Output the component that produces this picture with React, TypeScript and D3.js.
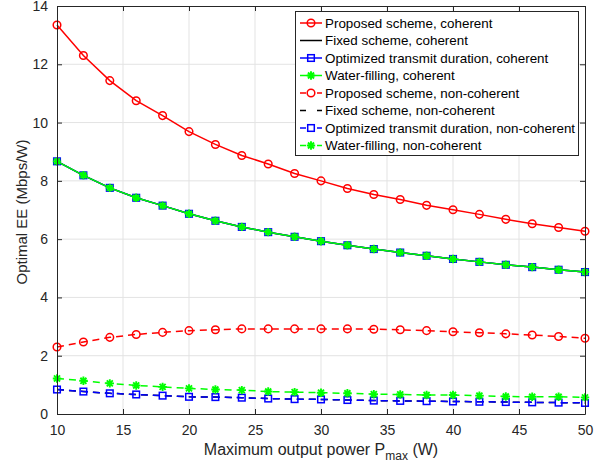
import React, { useEffect, useRef } from 'react';
import * as d3 from 'd3';

// Maximum output power (W)
const pmax = [10, 12, 14, 16, 18, 20, 22, 24, 26, 28, 30, 32, 34, 36, 38, 40, 42, 44, 46, 48, 50];

// coherent
const proposedCoh = [13.35, 12.3, 11.44, 10.75, 10.24, 9.69, 9.25, 8.87, 8.58, 8.25, 8.0, 7.74, 7.53, 7.36, 7.16, 7.01, 6.85, 6.68, 6.53, 6.4, 6.27];
const fixedCoh = [8.67, 8.19, 7.76, 7.42, 7.15, 6.87, 6.63, 6.42, 6.24, 6.08, 5.93, 5.79, 5.66, 5.54, 5.43, 5.32, 5.22, 5.12, 5.04, 4.95, 4.87];
const optCoh = [8.67, 8.19, 7.76, 7.42, 7.15, 6.87, 6.63, 6.42, 6.24, 6.08, 5.93, 5.79, 5.66, 5.54, 5.43, 5.32, 5.22, 5.12, 5.04, 4.95, 4.87];
const wfCoh = [8.67, 8.19, 7.76, 7.42, 7.15, 6.87, 6.63, 6.42, 6.24, 6.08, 5.93, 5.79, 5.66, 5.54, 5.43, 5.32, 5.22, 5.12, 5.04, 4.95, 4.87];

// non-coherent
const proposedNon = [2.3, 2.47, 2.63, 2.73, 2.8, 2.86, 2.89, 2.92, 2.92, 2.92, 2.92, 2.92, 2.91, 2.89, 2.86, 2.82, 2.79, 2.75, 2.71, 2.66, 2.6];
const fixedNon = [0.84, 0.77, 0.71, 0.67, 0.63, 0.59, 0.58, 0.56, 0.53, 0.51, 0.5, 0.48, 0.46, 0.45, 0.44, 0.43, 0.42, 0.41, 0.4, 0.39, 0.38];
const optNon = [0.84, 0.77, 0.71, 0.67, 0.63, 0.59, 0.58, 0.56, 0.53, 0.51, 0.5, 0.48, 0.46, 0.45, 0.44, 0.43, 0.42, 0.41, 0.4, 0.39, 0.38];
const wfNon = [1.22, 1.14, 1.05, 0.98, 0.93, 0.88, 0.84, 0.82, 0.77, 0.75, 0.73, 0.71, 0.68, 0.67, 0.65, 0.65, 0.63, 0.6, 0.59, 0.59, 0.57];

const xTicks = [10, 15, 20, 25, 30, 35, 40, 45, 50];
const yTicks = [0, 2, 4, 6, 8, 10, 12, 14];

const series = [
  { name: 'Proposed scheme, coherent', values: proposedCoh, color: '#ff0000', marker: 'circle', dashed: false },
  { name: 'Fixed scheme, coherent', values: fixedCoh, color: '#000000', marker: 'none', dashed: false },
  { name: 'Optimized transmit duration, coherent', values: optCoh, color: '#0000ff', marker: 'square', dashed: false },
  { name: 'Water-filling, coherent', values: wfCoh, color: '#00ff00', marker: 'star', dashed: false },
  { name: 'Proposed scheme, non-coherent', values: proposedNon, color: '#ff0000', marker: 'circle', dashed: true },
  { name: 'Fixed scheme, non-coherent', values: fixedNon, color: '#000000', marker: 'none', dashed: true },
  { name: 'Optimized transmit duration, non-coherent', values: optNon, color: '#0000ff', marker: 'square', dashed: true },
  { name: 'Water-filling, non-coherent', values: wfNon, color: '#00ff00', marker: 'star', dashed: true },
];

const FONT = 'Liberation Sans, Arial, sans-serif';

const drawMarker = (g, type, cx, cy, color) => {
  if (type === 'circle') {
    g.append('circle').attr('cx', cx).attr('cy', cy).attr('r', 3.8)
      .attr('fill', 'none').attr('stroke', color).attr('stroke-width', 1.5);
  } else if (type === 'square') {
    g.append('rect').attr('x', cx - 3.3).attr('y', cy - 3.3).attr('width', 6.6).attr('height', 6.6)
      .attr('fill', 'none').attr('stroke', color).attr('stroke-width', 1.5);
  } else if (type === 'star') {
    const s = 4.2;
    const d = s * 0.72;
    const p = `M${cx - s},${cy}L${cx + s},${cy}M${cx},${cy - s}L${cx},${cy + s}` +
      `M${cx - d},${cy - d}L${cx + d},${cy + d}M${cx - d},${cy + d}L${cx + d},${cy - d}`;
    g.append('path').attr('d', p).attr('fill', 'none').attr('stroke', color).attr('stroke-width', 1.9);
  }
};

const Chart = () => {
  const svgRef = useRef(null);

  useEffect(() => {
    const width = 608;
    const height = 467;
    const margin = { top: 6, right: 23, bottom: 53, left: 57 };
    const innerWidth = width - margin.left - margin.right;
    const innerHeight = height - margin.top - margin.bottom;

    const svg = d3.select(svgRef.current);
    svg.selectAll('*').remove();
    svg.attr('width', width).attr('height', height);

    svg.append('rect').attr('width', width).attr('height', height).attr('fill', '#fff');

    const chart = svg.append('g').attr('transform', `translate(${margin.left},${margin.top})`);

    const x = d3.scaleLinear().domain([10, 50]).range([0, innerWidth]);
    const y = d3.scaleLinear().domain([0, 14]).range([innerHeight, 0]);

    // grid
    chart.append('g').selectAll('line.vg').data(xTicks.slice(1, -1)).enter().append('line')
      .attr('x1', d => x(d)).attr('x2', d => x(d)).attr('y1', 0).attr('y2', innerHeight)
      .attr('stroke', '#e3e3e3').attr('stroke-width', 1);
    chart.append('g').selectAll('line.hg').data(yTicks.slice(1, -1)).enter().append('line')
      .attr('y1', d => y(d)).attr('y2', d => y(d)).attr('x1', 0).attr('x2', innerWidth)
      .attr('stroke', '#e3e3e3').attr('stroke-width', 1);

    // series
    const line = d3.line().x(d => x(d[0])).y(d => y(d[1]));
    series.forEach(s => {
      const pts = pmax.map((p, i) => [p, s.values[i]]);
      const g = chart.append('g');
      g.append('path').datum(pts).attr('d', line)
        .attr('fill', 'none').attr('stroke', s.color).attr('stroke-width', 1.5)
        .attr('stroke-dasharray', s.dashed ? '7,5' : null);
      pts.forEach(p => drawMarker(g, s.marker, x(p[0]), y(p[1]), s.color));
    });

    // axes box and ticks (MATLAB style, inward)
    const axisColor = '#262626';
    const bottom = chart.append('g').attr('transform', `translate(0,${innerHeight})`)
      .call(d3.axisBottom(x).tickValues(xTicks).tickSizeInner(-5).tickSizeOuter(0).tickPadding(11));
    const top = chart.append('g')
      .call(d3.axisTop(x).tickValues(xTicks).tickSizeInner(-5).tickSizeOuter(0).tickFormat(''));
    const left = chart.append('g')
      .call(d3.axisLeft(y).tickValues(yTicks).tickSizeInner(-5).tickSizeOuter(0).tickPadding(9));
    const right = chart.append('g').attr('transform', `translate(${innerWidth},0)`)
      .call(d3.axisRight(y).tickValues(yTicks).tickSizeInner(-5).tickSizeOuter(0).tickFormat(''));
    [bottom, top, left, right].forEach(a => {
      a.selectAll('path.domain').attr('stroke', axisColor);
      a.selectAll('line').attr('stroke', axisColor);
      a.selectAll('text').attr('fill', axisColor).style('font-size', '14px').style('font-family', FONT);
    });

    // axis labels
    const xl = svg.append('text')
      .attr('x', margin.left + innerWidth / 2)
      .attr('y', 455)
      .attr('text-anchor', 'middle')
      .attr('fill', axisColor)
      .style('font-size', '16px')
      .style('font-family', FONT);
    xl.append('tspan').text('Maximum output power P');
    xl.append('tspan').attr('dy', 5).style('font-size', '12px').text('max');
    xl.append('tspan').attr('dy', -5).text(' (W)');

    svg.append('text')
      .attr('transform', `translate(27,${margin.top + innerHeight / 2 + 2}) rotate(-90)`)
      .attr('text-anchor', 'middle')
      .attr('fill', axisColor)
      .style('font-size', '15px')
      .style('font-family', FONT)
      .text('Optimal EE (Mbps/W)');

    // legend
    const lg = svg.append('g');
    lg.append('rect').attr('x', 295.5).attr('y', 11.5).attr('width', 283).attr('height', 144)
      .attr('fill', '#fff').attr('stroke', axisColor).attr('stroke-width', 1);
    series.forEach((s, i) => {
      const cy = 23 + i * 17.5;
      lg.append('line').attr('x1', 300).attr('x2', 322).attr('y1', cy).attr('y2', cy)
        .attr('stroke', s.color).attr('stroke-width', 1.5)
        .attr('stroke-dasharray', s.dashed ? '6,11' : null);
      drawMarker(lg, s.marker, 311, cy, s.color);
      lg.append('text').attr('x', 325).attr('y', cy + 4.5)
        .attr('fill', '#000')
        .style('font-size', '13.4px')
        .style('font-family', FONT)
        .text(s.name);
    });
  }, []);

  return <svg ref={svgRef} style={{ position: 'fixed', left: 0, top: 0 }}></svg>;
};

export default function App() {
  return <Chart />;
}
